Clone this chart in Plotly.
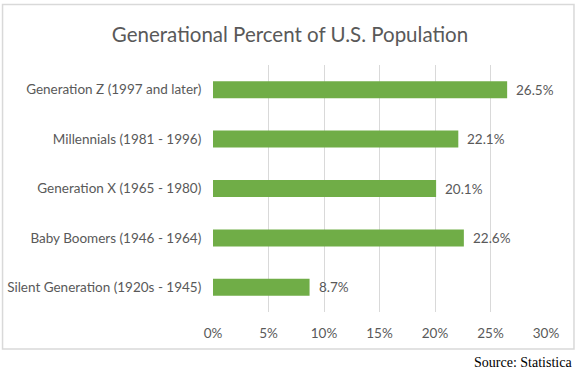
import plotly.graph_objects as go

categories = [
    "Generation Z (1997 and later)",
    "Millennials (1981 - 1996)",
    "Generation X (1965 - 1980)",
    "Baby Boomers (1946 - 1964)",
    "Silent Generation (1920s - 1945)",
]
values = [26.5, 22.1, 20.1, 22.6, 8.7]
tick_vals = [0, 5, 10, 15, 20, 25, 30]
tick_text = ["0%", "5%", "10%", "15%", "20%", "25%", "30%"]

FONT = "Lato"
GREY = "#595959"

fig = go.Figure(
    go.Bar(
        x=values,
        y=categories,
        orientation="h",
        marker=dict(color="#70AD47", line=dict(width=0)),
        hoverinfo="skip",
    )
)

for v, c in zip(values, categories):
    fig.add_annotation(
        x=v, y=c, xref="x", yref="y",
        text=f"{v:.1f}%", showarrow=False,
        xanchor="left", yanchor="middle", xshift=7,
        font=dict(family=FONT, size=13.5, color=GREY),
    )

fig.add_annotation(
    x=1.084, y=-0.203, xref="paper", yref="paper",
    text="Source: Statistica", showarrow=False,
    xanchor="right", yanchor="middle",
    font=dict(family="Liberation Serif", size=14, color="#000000"),
)

fig.add_shape(
    type="rect", xref="paper", yref="paper",
    x0=-0.632, x1=1.084, y0=-0.150, y1=1.245,
    line=dict(color="#D9D9D9", width=1.5), fillcolor="rgba(0,0,0,0)",
    layer="below",
)

fig.update_layout(
    template="none",
    width=579, height=373,
    margin=dict(l=213, r=33, t=65, b=61, autoexpand=False),
    paper_bgcolor="white", plot_bgcolor="white",
    bargap=0.656,
    showlegend=False,
    title=dict(
        text="Generational Percent of U.S. Population",
        x=290 / 579, xref="container", xanchor="center",
        y=1 - 35 / 373, yref="container", yanchor="middle",
        font=dict(family=FONT, size=20.5, color=GREY),
    ),
    xaxis=dict(
        range=[0, 30], tickvals=tick_vals, ticktext=tick_text,
        showgrid=True, gridcolor="#D9D9D9", gridwidth=1,
        zeroline=False, showline=False, automargin=False,
        ticks="outside", ticklen=9, tickcolor="rgba(0,0,0,0)",
        tickfont=dict(family=FONT, size=13.5, color=GREY),
        fixedrange=True,
    ),
    yaxis=dict(
        autorange="reversed", showgrid=False, zeroline=False, showline=False,
        automargin=False,
        ticks="outside", ticklen=8, tickcolor="rgba(0,0,0,0)",
        tickfont=dict(family=FONT, size=13.5, color=GREY),
        fixedrange=True,
    ),
)

fig.write_html(
    "out.html",
    config={"displayModeBar": False},
    post_script="document.body.style.margin='0';",
)
